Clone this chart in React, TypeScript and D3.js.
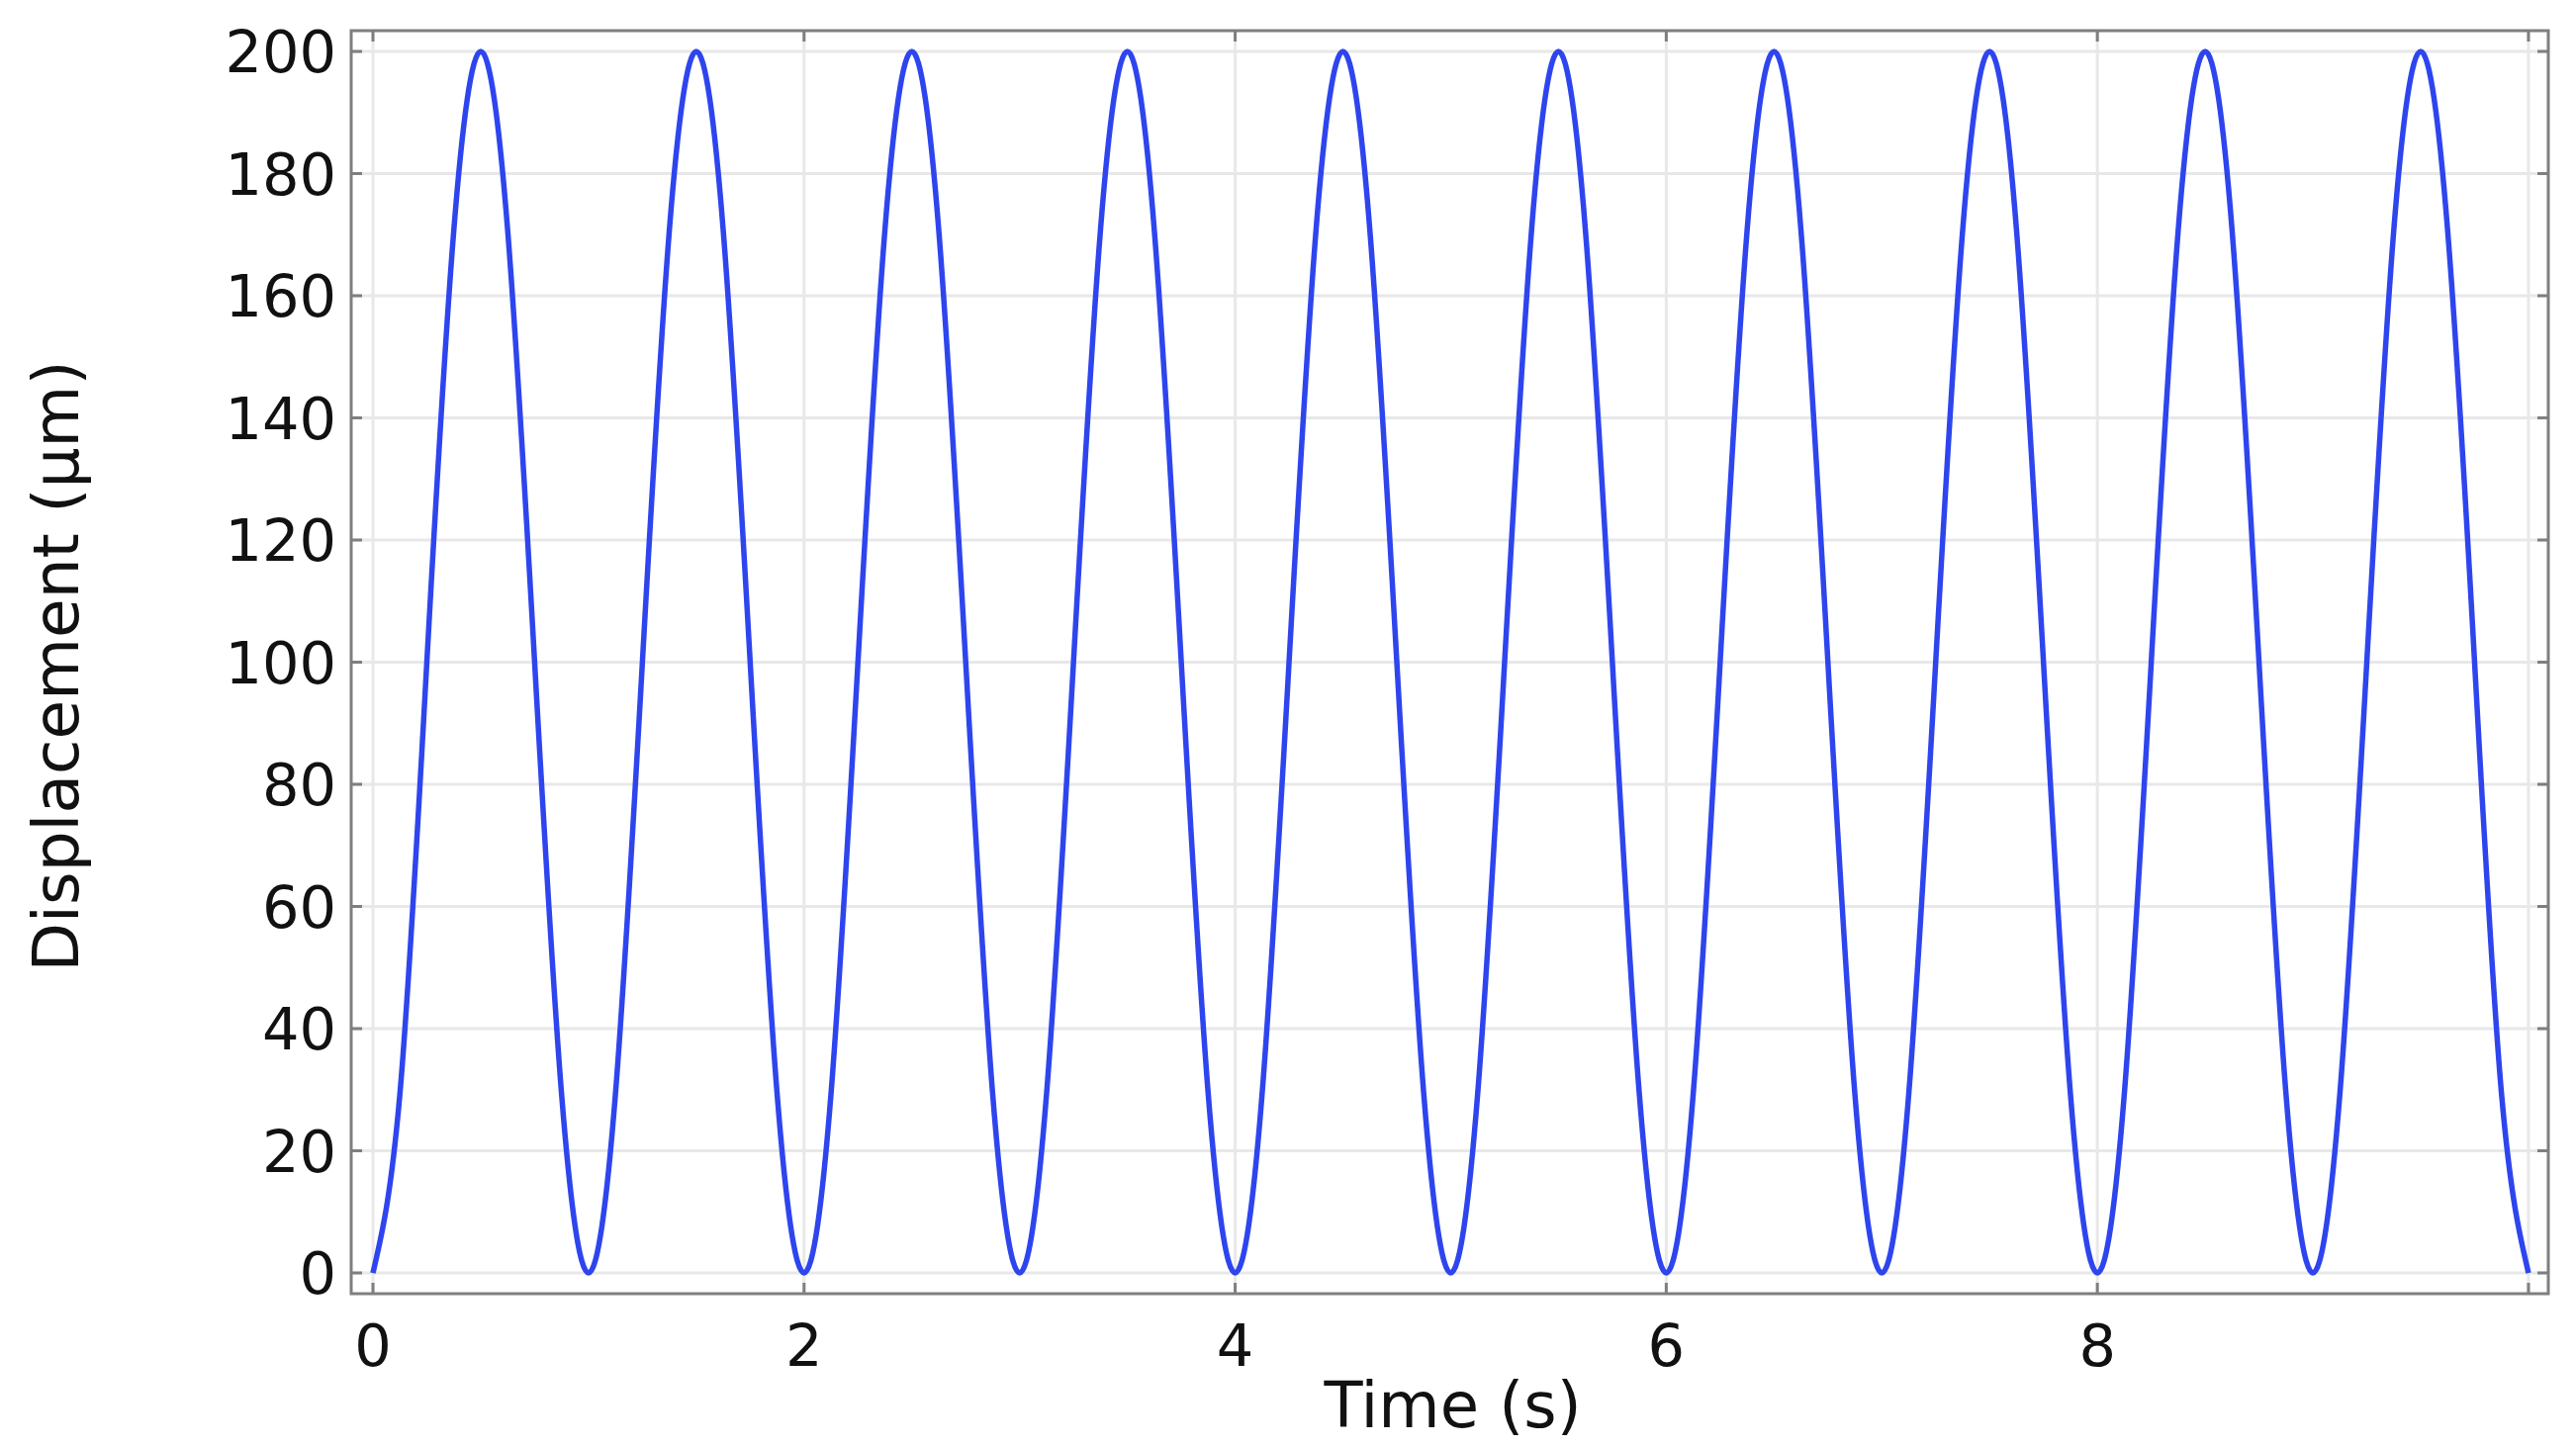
import React from "react";
import * as d3 from "d3";

const timeValues = [
  0, 0.125, 0.25, 0.375, 0.5, 0.625, 0.75, 0.875,
  1, 1.125, 1.25, 1.375, 1.5, 1.625, 1.75, 1.875,
  2, 2.125, 2.25, 2.375, 2.5, 2.625, 2.75, 2.875,
  3, 3.125, 3.25, 3.375, 3.5, 3.625, 3.75, 3.875,
  4, 4.125, 4.25, 4.375, 4.5, 4.625, 4.75, 4.875,
  5, 5.125, 5.25, 5.375, 5.5, 5.625, 5.75, 5.875,
  6, 6.125, 6.25, 6.375, 6.5, 6.625, 6.75, 6.875,
  7, 7.125, 7.25, 7.375, 7.5, 7.625, 7.75, 7.875,
  8, 8.125, 8.25, 8.375, 8.5, 8.625, 8.75, 8.875,
  9, 9.125, 9.25, 9.375, 9.5, 9.625, 9.75, 9.875,
  10,
];

const displacementValues = [
  0, 29.3, 100, 170.7, 200, 170.7, 100, 29.3,
  0, 29.3, 100, 170.7, 200, 170.7, 100, 29.3,
  0, 29.3, 100, 170.7, 200, 170.7, 100, 29.3,
  0, 29.3, 100, 170.7, 200, 170.7, 100, 29.3,
  0, 29.3, 100, 170.7, 200, 170.7, 100, 29.3,
  0, 29.3, 100, 170.7, 200, 170.7, 100, 29.3,
  0, 29.3, 100, 170.7, 200, 170.7, 100, 29.3,
  0, 29.3, 100, 170.7, 200, 170.7, 100, 29.3,
  0, 29.3, 100, 170.7, 200, 170.7, 100, 29.3,
  0, 29.3, 100, 170.7, 200, 170.7, 100, 29.3,
  0,
];

const xTicks = [0, 2, 4, 6, 8, 10];
const xTickLabels = ["0", "2", "4", "6", "8", ""];
const yTicks = [0, 20, 40, 60, 80, 100, 120, 140, 160, 180, 200];
const xTitle = "Time (s)";
const yTitle = "Displacement (µm)";

const W = 2604;
const H = 1462;
const left = 355;
const right = 2576;
const top = 31;
const bottom = 1308;
const FONT = "'DejaVu Sans', Verdana, sans-serif";

export default function App() {
  const x = d3.scaleLinear().domain([-0.101, 10.092]).range([left, right]);
  const y = d3.scaleLinear().domain([-3.4, 203.4]).range([bottom, top]);

  const data = timeValues.map((t, i) => ({ t, v: displacementValues[i] }));
  const line = d3
    .line<{ t: number; v: number }>()
    .x((d) => x(d.t))
    .y((d) => y(d.v))
    .curve(d3.curveNatural);

  const gridColor = "#e8e8e8";
  const axisColor = "#7f7f7f";
  const tickLen = 11;

  return (
    <svg
      width={W}
      height={H}
      style={{ position: "absolute", left: 0, top: 0, background: "#fff" }}
    >
      <rect x={0} y={0} width={W} height={H} fill="#fff" />
      {/* grid */}
      {yTicks.map((v) => (
        <line key={"gy" + v} x1={left} x2={right} y1={y(v)} y2={y(v)} stroke={gridColor} strokeWidth={3} />
      ))}
      {xTicks.map((v) => (
        <line key={"gx" + v} x1={x(v)} x2={x(v)} y1={top} y2={bottom} stroke={gridColor} strokeWidth={3} />
      ))}
      {/* curve */}
      <path d={line(data) || ""} fill="none" stroke="#2e45ee" strokeWidth={5.5} strokeLinejoin="round" />
      {/* frame */}
      <rect x={left} y={top} width={right - left} height={bottom - top} fill="none" stroke={axisColor} strokeWidth={3} />
      {/* ticks */}
      {yTicks.map((v) => (
        <g key={"ty" + v}>
          <line x1={left} x2={left + tickLen} y1={y(v)} y2={y(v)} stroke={axisColor} strokeWidth={3} />
          <line x1={right} x2={right - tickLen} y1={y(v)} y2={y(v)} stroke={axisColor} strokeWidth={3} />
          <text
            x={left - 15}
            y={y(v)}
            dy="0.36em"
            textAnchor="end"
            fontFamily={FONT}
            fontSize={59}
            fill="#111"
          >
            {String(v)}
          </text>
        </g>
      ))}
      {xTicks.map((v, i) => (
        <g key={"tx" + v}>
          <line x1={x(v)} x2={x(v)} y1={bottom} y2={bottom - tickLen} stroke={axisColor} strokeWidth={3} />
          <line x1={x(v)} x2={x(v)} y1={top} y2={top + tickLen} stroke={axisColor} strokeWidth={3} />
          <text x={x(v)} y={1381} textAnchor="middle" fontFamily={FONT} fontSize={59} fill="#111">
            {xTickLabels[i]}
          </text>
        </g>
      ))}
      {/* titles */}
      <text
        x={(left + right) / 2 + 3}
        y={1443}
        textAnchor="middle"
        fontFamily={FONT}
        fontSize={64}
        fill="#111"
      >
        {xTitle}
      </text>
      <text
        transform={`translate(79, ${(top + bottom) / 2 + 4}) rotate(-90)`}
        textAnchor="middle"
        fontFamily={FONT}
        fontSize={64.5}
        fill="#111"
      >
        {yTitle}
      </text>
    </svg>
  );
}
